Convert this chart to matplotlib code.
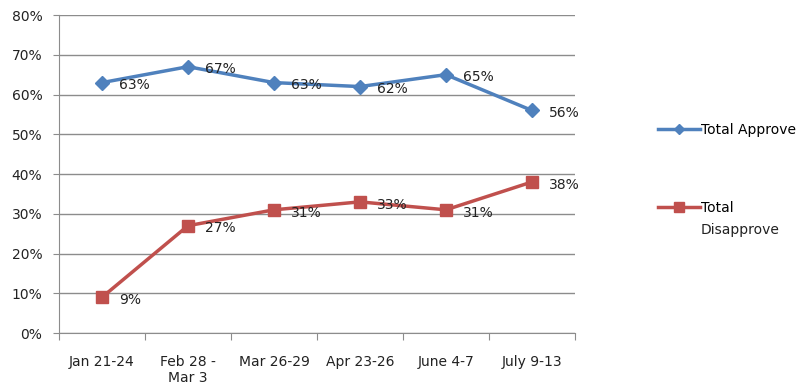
import matplotlib
matplotlib.use('Agg')
import matplotlib.pyplot as plt

categories = ['Jan 21-24', 'Feb 28 -\nMar 3', 'Mar 26-29', 'Apr 23-26', 'June 4-7', 'July 9-13']
approve = [63, 67, 63, 62, 65, 56]
disapprove = [9, 27, 31, 33, 31, 38]

plt.rcParams['font.family'] = ['DejaVu Sans']
plt.rcParams['font.size'] = 10
blue = '#4F81BD'
red = '#C0504D'
txt = '#222222'

fig = plt.figure(figsize=(8.04, 3.9), dpi=100)
ax = fig.add_axes([0.0734, 0.146, 0.6416, 0.8155])

x = list(range(len(categories)))
l1, = ax.plot(x, approve, color=blue, lw=2.5, marker='D', ms=7, label='Total Approve')
l2, = ax.plot(x, disapprove, color=red, lw=2.5, marker='s', ms=9, label='Total')

for i in x:
    ax.annotate('%d%%' % approve[i], (i, approve[i]), xytext=(12, -2), textcoords='offset points',
                va='center', ha='left', color=txt)
    ax.annotate('%d%%' % disapprove[i], (i, disapprove[i]), xytext=(12, -2), textcoords='offset points',
                va='center', ha='left', color=txt)

ax.set_xlim(-0.5, len(categories) - 0.5)
ax.set_ylim(0, 80)
ax.set_yticks(range(0, 81, 10))
ax.set_yticklabels(['%d%%' % v for v in range(0, 81, 10)], color=txt)
ax.yaxis.grid(True, color='#8c8c8c', lw=1)
ax.set_axisbelow(True)

# ticks between categories, labels under the points
ax.set_xticks([i + 0.5 for i in range(-1, len(categories))])
ax.set_xticklabels([])
ax.set_xticks(x, minor=True)
ax.set_xticklabels(categories, minor=True, color=txt)
ax.tick_params(axis='x', which='minor', length=0, pad=16)
ax.tick_params(axis='x', which='major', length=5, color='#8c8c8c', direction='out')
ax.tick_params(axis='y', length=4, color='#8c8c8c', pad=8)

for s in ['top', 'right']:
    ax.spines[s].set_visible(False)
ax.spines['left'].set_color('#8c8c8c')
ax.spines['bottom'].set_color('#8c8c8c')

# legend, one entry at a time so the marker sits beside the first line of text
fig.legend(handles=[l1], loc='center left', bbox_to_anchor=(658 / 804, 1 - 130 / 390),
           frameon=False, borderpad=0, borderaxespad=0, handlelength=3.0,
           handletextpad=0.1, markerscale=0.75)
fig.legend(handles=[l2], loc='center left', bbox_to_anchor=(658 / 804, 1 - 208 / 390),
           frameon=False, borderpad=0, borderaxespad=0, handlelength=3.0,
           handletextpad=0.1, markerscale=0.75)
fig.text(701 / 804, 1 - 230 / 390, 'Disapprove', va='center', ha='left', color=txt)

fig.savefig('out.png', dpi=100)
